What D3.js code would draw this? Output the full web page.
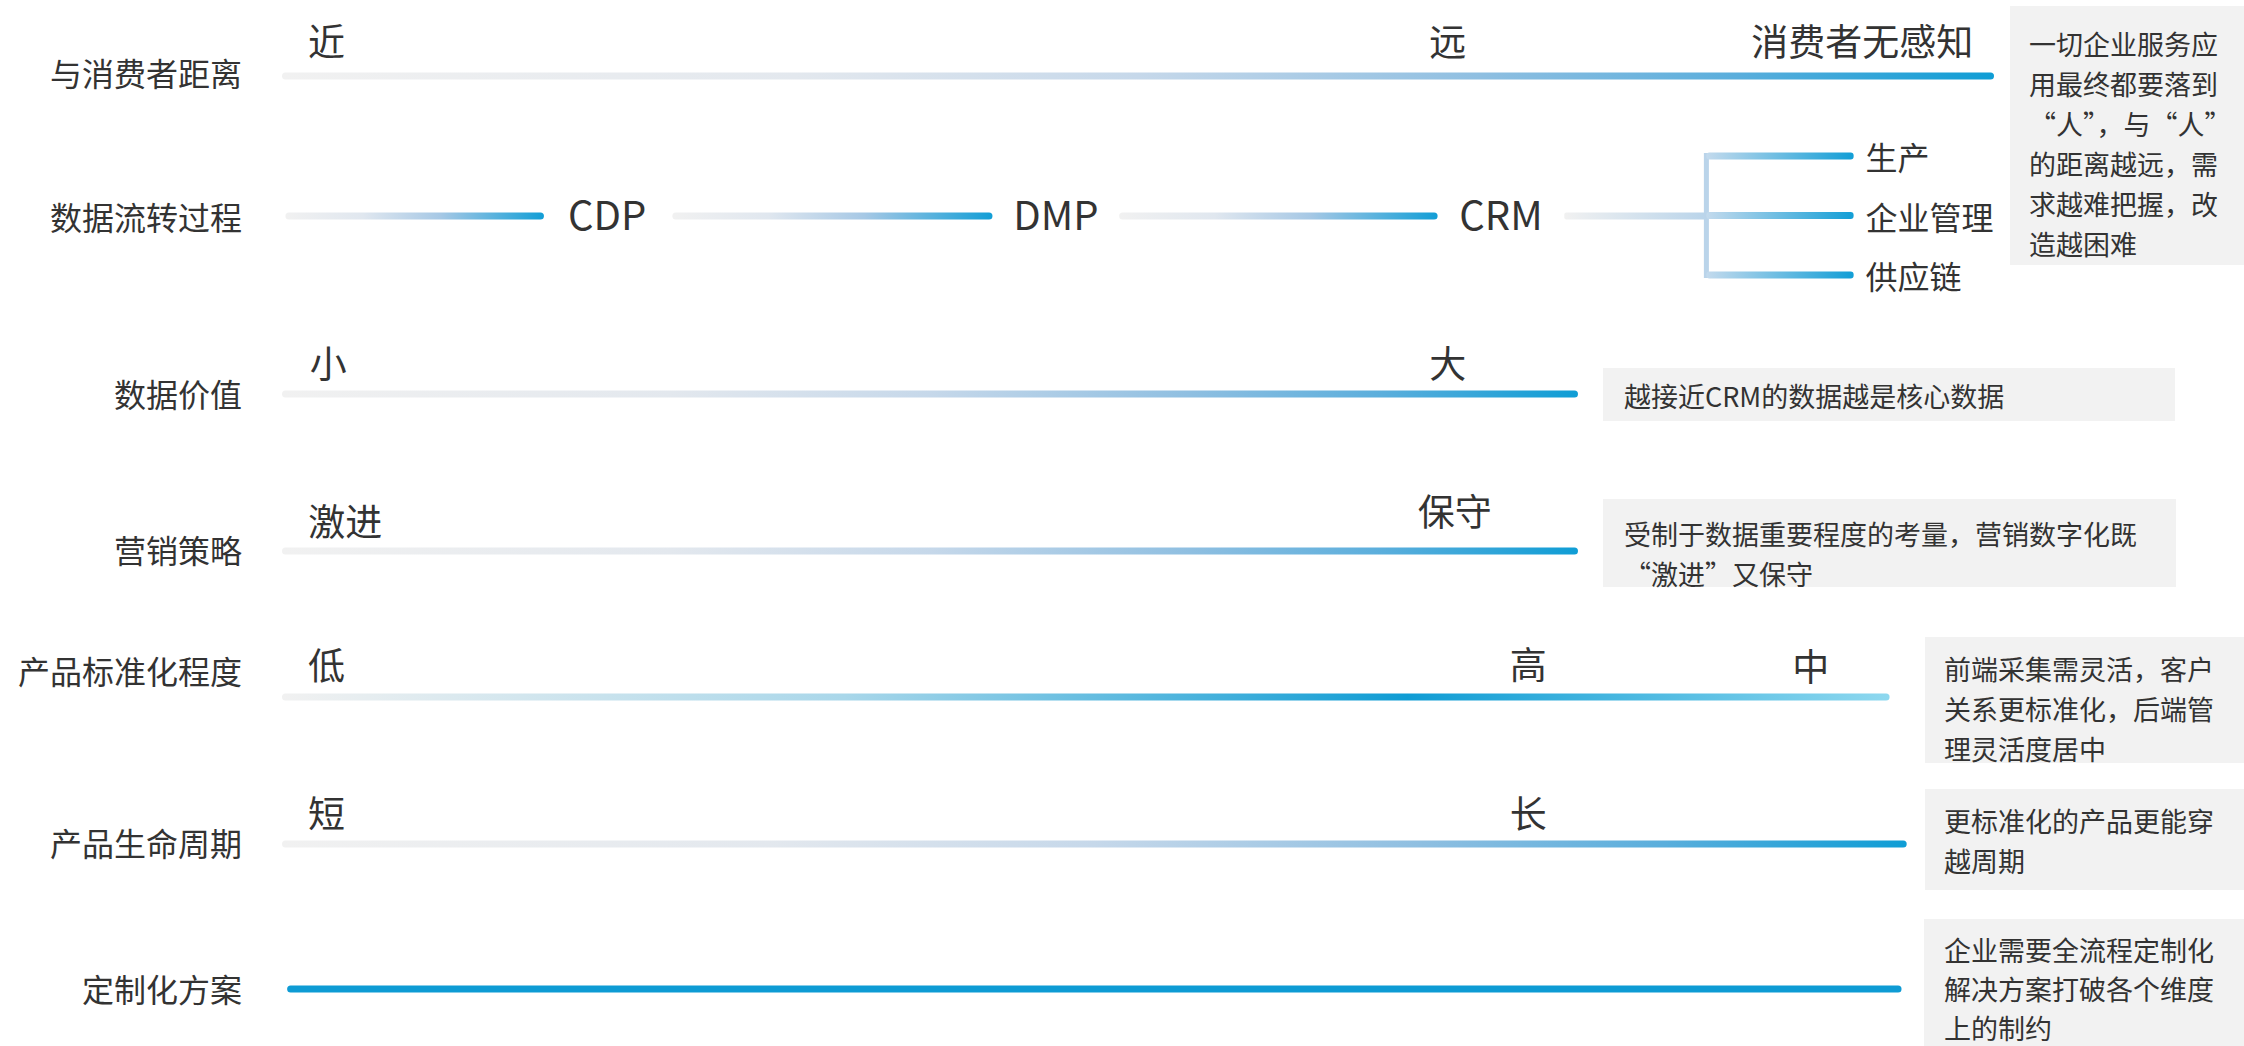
<!DOCTYPE html>
<html>
<head>
<meta charset="utf-8">
<script src="https://cdn.jsdelivr.net/npm/d3@7"></script>
<style>
html,body{margin:0;padding:0;background:#fff;}
svg{display:block;}
text{font-family:"Noto Sans CJK SC","Noto Sans",sans-serif;fill:#333;}
</style>
</head>
<body>
<svg id="chart" width="2244" height="1046"></svg>
<script>
// ---------- data ----------
const categories = ["与消费者距离","数据流转过程","数据价值","营销策略","产品标准化程度","产品生命周期","定制化方案"];
// bar extents on a 0-100 axis (rows other than the data-flow row)
const barRows   = [0, 2, 3, 4, 5, 6];
const barStart  = [0, 0, 0, 0, 0, 0.3];
const barEnd    = [100, 75.7, 75.7, 93.9, 94.9, 94.6];
const barStyle  = ["fade", "fade", "fade", "peak", "fade", "solid"];
// end/mid markers
const markerRow   = [0, 0, 0, 2, 2, 3, 3, 4, 4, 4, 5, 5];
const markerText  = ["近","远","消费者无感知","小","大","激进","保守","低","高","中","短","长"];
const markerValue = [2.6, 68.1, 92.3, 2.7, 68.1, 3.7, 68.5, 2.6, 72.8, 89.3, 2.6, 72.8];
// data-flow row
const flowStages   = ["CDP","DMP","CRM"];
const flowSegStart = [0.2, 22.8, 48.9];
const flowSegEnd   = [15.3, 41.5, 67.5];
const flowStagePos = [19.0, 45.2, 71.2];
const flowTail     = [74.9, 83.2];
const branchLabels = ["生产","企业管理","供应链"];
const branchEnd    = 91.8;
// notes
const noteRow   = [0, 2, 3, 4, 5, 6];
const noteLines = [
  ["一切企业服务应","用最终都要落到","“人”，与“人”","的距离越远，需","求越难把握，改","造越困难"],
  ["越接近CRM的数据越是核心数据"],
  ["受制于数据重要程度的考量，营销数字化既","“激进”又保守"],
  ["前端采集需灵活，客户","关系更标准化，后端管","理灵活度居中"],
  ["更标准化的产品更能穿","越周期"],
  ["企业需要全流程定制化","解决方案打破各个维度","上的制约"]
];

// ---------- layout ----------
const svg = d3.select("#chart");
const x = d3.scaleLinear().domain([0, 100]).range([282, 1994]);
const y = d3.scaleOrdinal().domain(categories).range([76, 216, 394, 551, 697, 844, 989]);
const labelDy = [-4, 0, -1, -2, -27, -2, -1];
const markerDy = [-36, -36, -36, -32, -32, -31, -41, -33, -34, -32, -32, -32];
const barH = 7;

const defs = svg.append("defs");
function grad(id, stops) {
  const g = defs.append("linearGradient").attr("id", id)
    .attr("x1", "0%").attr("x2", "100%").attr("y1", "0%").attr("y2", "0%");
  stops.forEach(s => g.append("stop").attr("offset", s[0]).attr("stop-color", s[1]));
}
grad("fade", [[0, "#f1f1f1"], [0.3, "#e3e8ee"], [0.5, "#c6d8ea"], [0.7, "#8fbfe1"], [0.85, "#5aaedc"], [1, "#0f9dd5"]]);
grad("seg", [[0, "#f1f1f1"], [0.3, "#e0e7ef"], [0.6, "#a6c8e5"], [1, "#129ed6"]]);
grad("tail", [[0, "#f1f1f1"], [1, "#b9d4ea"]]);
grad("branch", [[0, "#c3daed"], [1, "#129ed6"]]);
grad("peak", [[0, "#f1f1f1"], [0.35, "#a9d7ea"], [0.7, "#0f9cd4"], [1, "#8ed8ef"]]);

// row labels
svg.append("g").selectAll("text").data(categories).join("text")
  .attr("x", 242).attr("y", (d, i) => y(d) + labelDy[i])
  .attr("text-anchor", "end").attr("dominant-baseline", "central")
  .attr("font-size", 32).text(d => d);

// bars
svg.append("g").selectAll("rect").data(barRows).join("rect")
  .attr("x", (r, i) => x(barStart[i]))
  .attr("width", (r, i) => x(barEnd[i]) - x(barStart[i]))
  .attr("y", r => y(categories[r]) - barH / 2)
  .attr("height", barH).attr("rx", barH / 2)
  .attr("fill", (r, i) => barStyle[i] === "solid" ? "#0e9bd4" : `url(#${barStyle[i]})`);

// markers
svg.append("g").selectAll("text").data(markerText).join("text")
  .attr("x", (d, i) => x(markerValue[i]))
  .attr("y", (d, i) => y(categories[markerRow[i]]) + markerDy[i])
  .attr("text-anchor", "middle").attr("dominant-baseline", "central")
  .attr("font-size", 37).text(d => d);

// data-flow row
const fy = y(categories[1]);
const flow = svg.append("g");
flow.selectAll("rect.seg").data(flowStages).join("rect").attr("class", "seg")
  .attr("x", (d, i) => x(flowSegStart[i]))
  .attr("width", (d, i) => x(flowSegEnd[i]) - x(flowSegStart[i]))
  .attr("y", fy - barH / 2).attr("height", barH).attr("rx", barH / 2)
  .attr("fill", "url(#seg)");
flow.selectAll("text.stage").data(flowStages).join("text").attr("class", "stage")
  .attr("x", (d, i) => x(flowStagePos[i])).attr("y", fy + 14)
  .attr("text-anchor", "middle").attr("font-size", 40).text(d => d);
flow.append("rect")
  .attr("x", x(flowTail[0])).attr("width", x(flowTail[1]) - x(flowTail[0]))
  .attr("y", fy - barH / 2).attr("height", barH).attr("rx", 2)
  .attr("fill", "url(#tail)");
const branchY = d3.scalePoint().domain(branchLabels).range([fy - 60, fy + 59]);
const vx = x(flowTail[1]);
flow.append("rect")
  .attr("x", vx - 2.5).attr("width", 5)
  .attr("y", branchY(branchLabels[0]) - 3).attr("height", branchY(branchLabels[2]) - branchY(branchLabels[0]) + 6)
  .attr("fill", "#bad4ea");
flow.selectAll("rect.branch").data(branchLabels).join("rect").attr("class", "branch")
  .attr("x", vx).attr("width", x(branchEnd) - vx)
  .attr("y", d => branchY(d) - 3.5).attr("height", barH).attr("rx", 3)
  .attr("fill", "url(#branch)");
flow.selectAll("text.branch").data(branchLabels).join("text").attr("class", "branch")
  .attr("x", x(branchEnd) + 12).attr("y", d => branchY(d))
  .attr("dominant-baseline", "central").attr("font-size", 32).text(d => d);

// notes
const noteBox = [
  {x: 2010, y: 6,   w: 234, h: 259, tx: 2029, ty: 43},
  {x: 1603, y: 368, w: 572, h: 53,  tx: 1624, ty: 395},
  {x: 1603, y: 499, w: 573, h: 88,  tx: 1624, ty: 533},
  {x: 1925, y: 637, w: 319, h: 126, tx: 1944, ty: 668},
  {x: 1925, y: 789, w: 319, h: 101, tx: 1944, ty: 820},
  {x: 1924, y: 919, w: 320, h: 140, tx: 1944, ty: 949}
];
const noteGap = [40, 40, 40, 40, 40, 39];
const notes = svg.append("g").selectAll("g").data(noteLines).join("g");
notes.append("rect")
  .attr("x", (d, i) => noteBox[i].x).attr("y", (d, i) => noteBox[i].y)
  .attr("width", (d, i) => noteBox[i].w).attr("height", (d, i) => noteBox[i].h)
  .attr("fill", "#f2f2f2");
notes.each(function(lines, i) {
  d3.select(this).selectAll("text").data(lines).join("text")
    .attr("x", noteBox[i].tx).attr("y", (d, j) => noteBox[i].ty + j * noteGap[i])
    .attr("dominant-baseline", "central").attr("font-size", 27).text(d => d);
});
</script>
</body>
</html>
